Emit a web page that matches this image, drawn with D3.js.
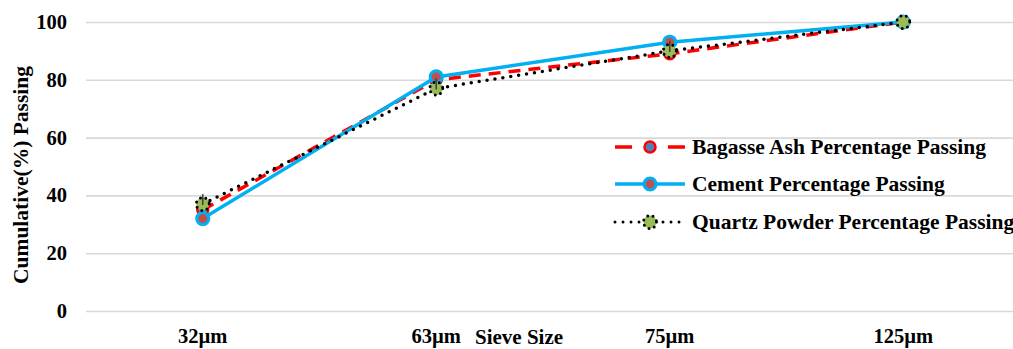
<!DOCTYPE html>
<html>
<head>
<meta charset="utf-8">
<script src="https://cdn.jsdelivr.net/npm/d3@7"></script>
<style>
  html, body { margin: 0; padding: 0; background: #fff; }
  svg { display: block; }
  text { font-family: "Liberation Serif", "Times New Roman", serif; font-weight: bold; fill: #000; }
</style>
</head>
<body>
<svg id="chart" width="1013" height="349"></svg>
<script>
// Sieve sizes and cumulative percentage passing for each material
const categories = ["32µm", "63µm", "75µm", "125µm"];
const bagasseAsh = [35, 80, 89, 100];
const cement = [32, 81, 93, 100];
const quartzPowder = [37, 77, 90, 100];
const yTicks = [0, 20, 40, 60, 80, 100];

const seriesNames = [
  "Bagasse Ash Percentage Passing",
  "Cement Percentage Passing",
  "Quartz Powder Percentage Passing"
];

const svg = d3.select("#chart");
const plot = { left: 86, right: 1020, top: 22, bottom: 311 };

const x = d3.scaleBand().domain(categories).range([plot.left, plot.right]).padding(0);
const cx = d => x(d) + x.bandwidth() / 2;
const y = d3.scaleLinear().domain([0, 100]).range([plot.bottom, plot.top]);

// Horizontal gridlines and value labels
const yAxis = svg.append("g")
  .attr("transform", `translate(${plot.left},0)`)
  .call(d3.axisLeft(y).tickValues(yTicks).tickFormat(d3.format("d"))
    .tickSize(-(plot.right - plot.left)).tickPadding(19));
yAxis.select(".domain").remove();
yAxis.selectAll(".tick line").attr("stroke", "#d9d9d9").attr("stroke-width", 1.6);
yAxis.selectAll(".tick text").style("font-size", "20.5px").style("font-family", "Liberation Serif").style("font-weight", "bold").attr("fill", "#000");

// Category labels along the bottom
const xAxis = svg.append("g")
  .attr("transform", `translate(0,${plot.bottom})`)
  .call(d3.axisBottom(x).tickSize(0).tickPadding(17));
xAxis.select(".domain").remove();
xAxis.selectAll(".tick text").style("font-size", "20.5px").style("font-family", "Liberation Serif").style("font-weight", "bold").attr("fill", "#000");

// Axis titles
svg.append("text")
  .attr("transform", "translate(28,175) rotate(-90)")
  .attr("text-anchor", "middle")
  .style("font-size", "21.5px")
  .text("Cumulative(%) Passing");

svg.append("text")
  .attr("x", 475).attr("y", 344)
  .style("font-size", "21px")
  .text("Sieve Size");

const line = d3.line().x((d, i) => cx(categories[i])).y(d => y(d));

// Marker drawers
function bagasseMarker(g, px, py) {
  g.append("circle").attr("cx", px).attr("cy", py).attr("r", 5.5)
    .attr("fill", "#4f81bd").attr("stroke", "#ff0000").attr("stroke-width", 2.5);
}
function cementMarker(g, px, py) {
  g.append("circle").attr("cx", px).attr("cy", py).attr("r", 6)
    .attr("fill", "#c0504d").attr("stroke", "#00b0f0").attr("stroke-width", 3.2);
}
function quartzMarker(g, px, py, stem) {
  g.append("circle").attr("cx", px).attr("cy", py).attr("r", 6.5)
    .attr("fill", "#9bbb59").attr("stroke", "#000").attr("stroke-width", 3)
    .attr("stroke-dasharray", "0,5.5").attr("stroke-linecap", "round");
  if (stem) {
    g.append("line").attr("x1", px).attr("x2", px).attr("y1", py - 10).attr("y2", py + 1)
      .attr("stroke", "#404040").attr("stroke-width", 1.6);
  }
}

// Bagasse ash series
const gB = svg.append("g");
gB.append("path").datum(bagasseAsh).attr("d", line)
  .attr("fill", "none").attr("stroke", "#ff0000").attr("stroke-width", 3.5)
  .attr("stroke-dasharray", "12,8");
bagasseAsh.forEach((v, i) => bagasseMarker(gB, cx(categories[i]), y(v)));

// Cement series
const gC = svg.append("g");
gC.append("path").datum(cement).attr("d", line)
  .attr("fill", "none").attr("stroke", "#00b0f0").attr("stroke-width", 3.5);
cement.forEach((v, i) => cementMarker(gC, cx(categories[i]), y(v)));

// Quartz powder series
const gQ = svg.append("g");
gQ.append("path").datum(quartzPowder).attr("d", line)
  .attr("fill", "none").attr("stroke", "#000").attr("stroke-width", 3.5)
  .attr("stroke-dasharray", "0,8").attr("stroke-linecap", "round");
quartzPowder.forEach((v, i) => quartzMarker(gQ, cx(categories[i]), y(v), i < quartzPowder.length - 1));

// Legend
const legend = svg.append("g");
const legRows = [147, 184, 222];
const lx0 = 615, lx1 = 685, lmid = 650;

legend.append("line").attr("x1", lx0).attr("x2", lx1).attr("y1", legRows[0]).attr("y2", legRows[0])
  .attr("stroke", "#ff0000").attr("stroke-width", 3.5).attr("stroke-dasharray", "17,36");
bagasseMarker(legend, lmid, legRows[0]);

legend.append("line").attr("x1", lx0).attr("x2", lx1).attr("y1", legRows[1]).attr("y2", legRows[1])
  .attr("stroke", "#00b0f0").attr("stroke-width", 3.5);
cementMarker(legend, lmid, legRows[1]);

legend.append("line").attr("x1", lx0).attr("x2", lx1).attr("y1", legRows[2]).attr("y2", legRows[2])
  .attr("stroke", "#000").attr("stroke-width", 3).attr("stroke-dasharray", "0,8").attr("stroke-linecap", "round");
quartzMarker(legend, lmid, legRows[2], false);

seriesNames.forEach((name, i) => {
  legend.append("text")
    .attr("x", 692).attr("y", legRows[i] + 7)
    .style("font-size", "21.5px")
    .text(name);
});
</script>
</body>
</html>
